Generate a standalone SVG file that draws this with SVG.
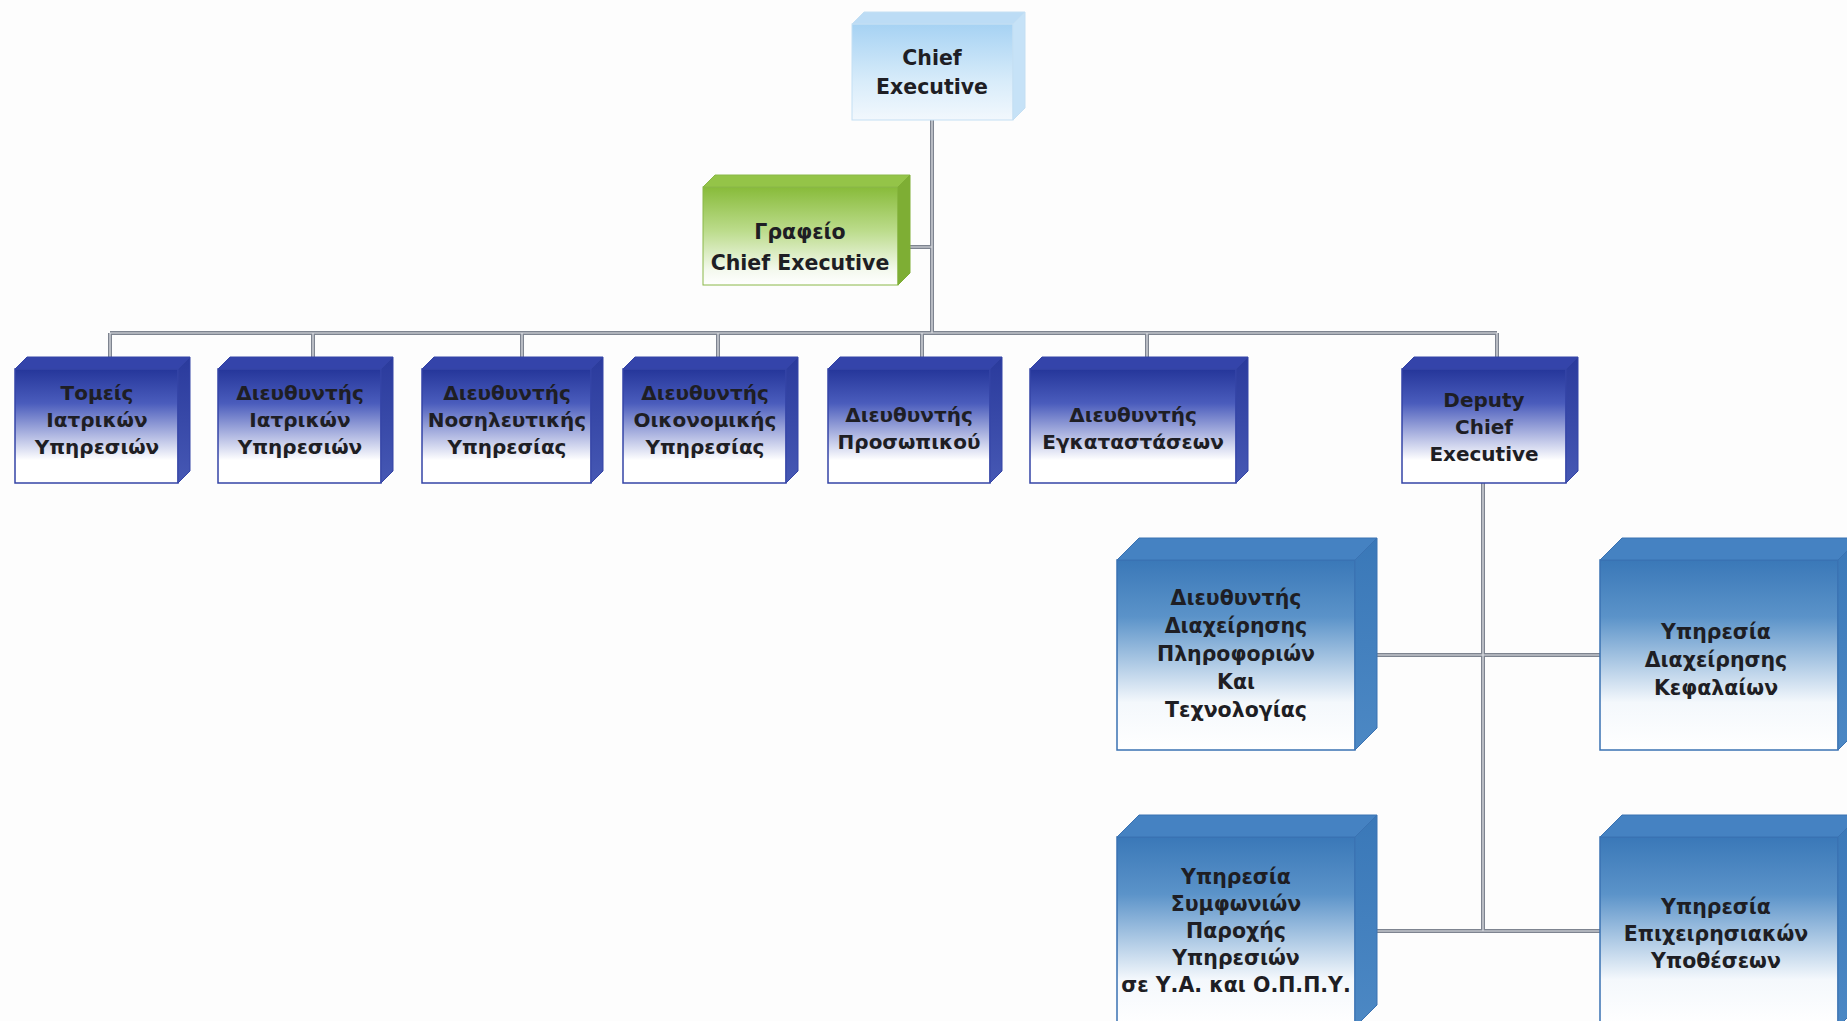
<svg xmlns="http://www.w3.org/2000/svg" width="1847" height="1021" viewBox="0 0 1847 1021">
<defs>
<linearGradient id="gL2" x1="0" y1="0" x2="0" y2="1">
<stop offset="0" stop-color="#25369a"/><stop offset="0.3" stop-color="#4a5cbc"/><stop offset="0.8" stop-color="#ffffff"/><stop offset="1" stop-color="#ffffff"/>
</linearGradient>
<linearGradient id="gL2r" x1="0" y1="0" x2="0" y2="1">
<stop offset="0" stop-color="#2a3a9c"/><stop offset="1" stop-color="#4658b4"/>
</linearGradient>
<linearGradient id="gL3" x1="0" y1="0" x2="0" y2="1">
<stop offset="0" stop-color="#3a78b8"/><stop offset="0.3" stop-color="#5b93c9"/><stop offset="0.75" stop-color="#f4f8fc"/><stop offset="1" stop-color="#ffffff"/>
</linearGradient>
<linearGradient id="gL3r" x1="0" y1="0" x2="0" y2="1">
<stop offset="0" stop-color="#3a78b8"/><stop offset="1" stop-color="#4c88c4"/>
</linearGradient>
<linearGradient id="gCE" x1="0" y1="0" x2="0" y2="1">
<stop offset="0" stop-color="#a6d2f3"/><stop offset="0.6" stop-color="#d8ecfa"/><stop offset="1" stop-color="#f2f8fd"/>
</linearGradient>
<linearGradient id="gGR" x1="0" y1="0" x2="0" y2="1">
<stop offset="0" stop-color="#88bb3a"/><stop offset="0.45" stop-color="#bcdc8c"/><stop offset="0.85" stop-color="#f4f9ee"/><stop offset="1" stop-color="#ffffff"/>
</linearGradient>
</defs>
<style>
.t{font-family:"DejaVu Sans",Verdana,sans-serif;font-weight:bold;text-anchor:middle;fill:#1e1e24}
.t2{font-size:20px}
.t3{font-size:20.5px}
.t1{font-size:20.5px}
.l2f{fill:url(#gL2);stroke:#3444a6;stroke-width:1.5}
.l2t{fill:#3444aa;stroke:#3444a6;stroke-width:1}
.l2r{fill:url(#gL2r);stroke:#3444a6;stroke-width:1}
.l3f{fill:url(#gL3);stroke:#3a72b2;stroke-width:1.5}
.l3t{fill:#4582c2;stroke:#3a72b2;stroke-width:1}
.l3r{fill:url(#gL3r);stroke:#3a72b2;stroke-width:1}
.cef{fill:url(#gCE);stroke:#c4dff3;stroke-width:1}
.cet{fill:#bcdcf5;stroke:#c4dff3;stroke-width:1}
.cer{fill:#c6e2f7;stroke:#c4dff3;stroke-width:1}
.grf{fill:url(#gGR);stroke:#8ab848;stroke-width:1}
.grt{fill:#94c448;stroke:#8ab848;stroke-width:1}
.grr{fill:#7eae34;stroke:#7eae34;stroke-width:1}
.c1{fill:none;stroke:#7e8490;stroke-width:4}
.c2{fill:none;stroke:#dfe2e6;stroke-width:1.2}
</style>
<rect width="1847" height="1021" fill="#fdfdfd"/>

<g id="connectors">
<path d="M932 120V333M910 247H932M110 333H1497M110 333V357M313 333V357M522 333V357M718 333V357M922 333V357M1147 333V357M1497 333V357M1483 483V931M1377 655H1600M1377 931H1600" class="c1"/>
<path d="M932 120V333M910 247H932M110 333H1497M110 333V357M313 333V357M522 333V357M718 333V357M922 333V357M1147 333V357M1497 333V357M1483 483V931M1377 655H1600M1377 931H1600" class="c2"/>
</g>

<g id="chief">
<rect class="cef" x="852" y="24" width="161" height="96"/>
<polygon class="cet" points="852,24 864,12 1025,12 1013,24"/>
<polygon class="cer" points="1013,24 1025,12 1025,108 1013,120"/>
<text class="t t1" x="932" y="65">Chief</text>
<text class="t t1" x="932" y="94">Executive</text>
</g>

<g id="grafeio">
<rect class="grf" x="703" y="187" width="195" height="98"/>
<polygon class="grt" points="703,187 715,175 910,175 898,187"/>
<polygon class="grr" points="898,187 910,175 910,273 898,285"/>
<text class="t t1" x="800" y="239">Γραφείο</text>
<text class="t t1" x="800" y="270">Chief Executive</text>
</g>

<g id="n1">
<rect class="l2f" x="15" y="369" width="163" height="114"/>
<polygon class="l2t" points="15,369 27,357 190,357 178,369"/>
<polygon class="l2r" points="178,369 190,357 190,471 178,483"/>
<text class="t t2" x="97" y="400">Τομείς</text>
<text class="t t2" x="97" y="427">Ιατρικών</text>
<text class="t t2" x="97" y="454">Υπηρεσιών</text>
</g>
<g id="n2">
<rect class="l2f" x="218" y="369" width="163" height="114"/>
<polygon class="l2t" points="218,369 230,357 393,357 381,369"/>
<polygon class="l2r" points="381,369 393,357 393,471 381,483"/>
<text class="t t2" x="300" y="400">Διευθυντής</text>
<text class="t t2" x="300" y="427">Ιατρικών</text>
<text class="t t2" x="300" y="454">Υπηρεσιών</text>
</g>
<g id="n3">
<rect class="l2f" x="422" y="369" width="169" height="114"/>
<polygon class="l2t" points="422,369 434,357 603,357 591,369"/>
<polygon class="l2r" points="591,369 603,357 603,471 591,483"/>
<text class="t t2" x="507" y="400">Διευθυντής</text>
<text class="t t2" x="507" y="427">Νοσηλευτικής</text>
<text class="t t2" x="507" y="454">Υπηρεσίας</text>
</g>
<g id="n4">
<rect class="l2f" x="623" y="369" width="163" height="114"/>
<polygon class="l2t" points="623,369 635,357 798,357 786,369"/>
<polygon class="l2r" points="786,369 798,357 798,471 786,483"/>
<text class="t t2" x="705" y="400">Διευθυντής</text>
<text class="t t2" x="705" y="427">Οικονομικής</text>
<text class="t t2" x="705" y="454">Υπηρεσίας</text>
</g>
<g id="n5">
<rect class="l2f" x="828" y="369" width="162" height="114"/>
<polygon class="l2t" points="828,369 840,357 1002,357 990,369"/>
<polygon class="l2r" points="990,369 1002,357 1002,471 990,483"/>
<text class="t t2" x="909" y="422">Διευθυντής</text>
<text class="t t2" x="909" y="449">Προσωπικού</text>
</g>
<g id="n6">
<rect class="l2f" x="1030" y="369" width="206" height="114"/>
<polygon class="l2t" points="1030,369 1042,357 1248,357 1236,369"/>
<polygon class="l2r" points="1236,369 1248,357 1248,471 1236,483"/>
<text class="t t2" x="1133" y="422">Διευθυντής</text>
<text class="t t2" x="1133" y="449">Εγκαταστάσεων</text>
</g>
<g id="deputy">
<rect class="l2f" x="1402" y="369" width="164" height="114"/>
<polygon class="l2t" points="1402,369 1414,357 1578,357 1566,369"/>
<polygon class="l2r" points="1566,369 1578,357 1578,471 1566,483"/>
<text class="t t2" x="1484" y="407">Deputy</text>
<text class="t t2" x="1484" y="434">Chief</text>
<text class="t t2" x="1484" y="461">Executive</text>
</g>

<g id="n7">
<rect class="l3f" x="1117" y="560" width="238" height="190"/>
<polygon class="l3t" points="1117,560 1139,538 1377,538 1355,560"/>
<polygon class="l3r" points="1355,560 1377,538 1377,728 1355,750"/>
<text class="t t3" x="1236" y="605">Διευθυντής</text>
<text class="t t3" x="1236" y="633">Διαχείρησης</text>
<text class="t t3" x="1236" y="661">Πληροφοριών</text>
<text class="t t3" x="1236" y="689">Και</text>
<text class="t t3" x="1236" y="717">Τεχνολογίας</text>
</g>
<g id="n8">
<rect class="l3f" x="1600" y="560" width="238" height="190"/>
<polygon class="l3t" points="1600,560 1622,538 1860,538 1838,560"/>
<polygon class="l3r" points="1838,560 1860,538 1860,728 1838,750"/>
<text class="t t3" x="1716" y="639">Υπηρεσία</text>
<text class="t t3" x="1716" y="667">Διαχείρησης</text>
<text class="t t3" x="1716" y="695">Κεφαλαίων</text>
</g>
<g id="n9">
<rect class="l3f" x="1117" y="837" width="238" height="190"/>
<polygon class="l3t" points="1117,837 1139,815 1377,815 1355,837"/>
<polygon class="l3r" points="1355,837 1377,815 1377,1005 1355,1027"/>
<text class="t t3" x="1236" y="884">Υπηρεσία</text>
<text class="t t3" x="1236" y="911">Συμφωνιών</text>
<text class="t t3" x="1236" y="938">Παροχής</text>
<text class="t t3" x="1236" y="965">Υπηρεσιών</text>
<text class="t t3" x="1236" y="992">σε Υ.Α. και Ο.Π.Π.Υ.</text>
</g>
<g id="n10">
<rect class="l3f" x="1600" y="837" width="238" height="190"/>
<polygon class="l3t" points="1600,837 1622,815 1860,815 1838,837"/>
<polygon class="l3r" points="1838,837 1860,815 1860,1005 1838,1027"/>
<text class="t t3" x="1716" y="914">Υπηρεσία</text>
<text class="t t3" x="1716" y="941">Επιχειρησιακών</text>
<text class="t t3" x="1716" y="968">Υποθέσεων</text>
</g>
</svg>
